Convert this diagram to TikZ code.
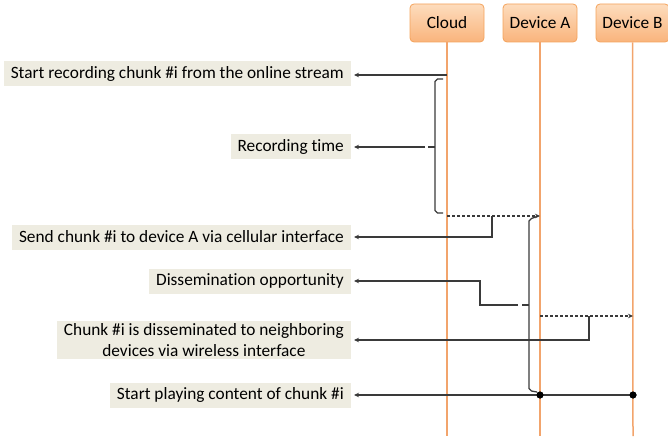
\documentclass[tikz,border=0pt]{standalone}
\usepackage{fontspec}
\setmainfont{Carlito}[Ligatures={NoCommon}]
\usetikzlibrary{arrows.meta,calc}
\definecolor{lifec}{HTML}{F2A46C}
\definecolor{boxtop}{HTML}{FDDCBD}
\definecolor{boxbot}{HTML}{F9B47C}
\definecolor{boxdraw}{HTML}{F4A35C}
\definecolor{labfill}{HTML}{EEECE1}
\definecolor{linec}{HTML}{3A3A3A}
\begin{document}
\begin{tikzpicture}[x=1pt,y=-1pt,
 header/.style={draw=boxdraw, line width=0.8pt, rounded corners=4pt, top color=boxtop, bottom color=boxbot, minimum width=74pt, minimum height=38pt, inner sep=2pt, font=\fontsize{17.3}{20}\selectfont},
 lifeline/.style={draw=lifec, line width=1.5pt},
 labelbox/.style={fill=labfill, anchor=east, inner xsep=7pt, inner ysep=2pt, minimum height=25pt, font=\fontsize{17.3}{21}\selectfont, align=center},
 conn/.style={draw=linec, line width=1.3pt},
 msg/.style={conn, -{Stealth[length=5pt,width=4.5pt]}},
 dmsg/.style={msg, dash pattern=on 3pt off 2pt},
 evdot/.style={circle, fill=black, inner sep=0pt, minimum size=7pt}]
\useasboundingbox (0,0) rectangle (668,438);
% headers
\node[header] (cloud) at (447,23) {Cloud};
\node[header] (devA) at (540,23) {Device A};
\node[header, minimum width=73pt] (devB) at (632.5,23) {Device B};
\coordinate (cloudE) at (447,436);
\coordinate (devAE) at (540,436);
\coordinate (devBE) at (633,436);
\draw[lifeline] (cloud.south) -- (cloudE);
\draw[lifeline] (devA.south) -- (devAE);
\draw[lifeline] (devB.south) -- (devBE);
% labels
\node[labelbox] (l1) at (351,74) {Start recording chunk \#i from the online stream};
\node[labelbox] (l2) at (351,147) {Recording time};
\node[labelbox] (l3) at (351,237) {Send chunk \#i to device A via cellular interface};
\node[labelbox] (l4) at (351,281) {Dissemination opportunity};
\node[labelbox] (l5) at (351,340) {Chunk \#i is disseminated to neighboring\\devices via wireless interface};
\node[labelbox] (l6) at (351,395) {Start playing content of chunk \#i};
% coordinates
\coordinate (c1) at (447,75);
\coordinate (b2) at (425,147);
\coordinate (cs) at (447,216);
\coordinate (as) at (540,216);
\coordinate (k3) at (492,216);
\coordinate (k4) at (518,305);
\coordinate (ad) at (540,316);
\coordinate (bd) at (633,316);
\coordinate (k5) at (589,316);
\node[evdot] (pA) at (540,395) {};
\node[evdot] (pB) at (633,395) {};
% messages
\draw[msg] (c1) -- ([xshift=3pt,yshift=-1pt]l1.east);
% recording brace
\draw[conn] (443,79) -- (437.5,79) -- (435,81.5) -- (435,210.5) -- (437.5,213) -- (443,213);
\draw[conn] (435,147) -- (428,147);
\draw[msg] (b2) -- ([xshift=3pt]l2.east);
% send
\draw[dmsg] (cs) -- (as);
\draw[msg] (k3) |- ([xshift=3pt]l3.east);
% device A brace
\draw[conn] (538,216) -- (531.5,218.5) -- (529,221) -- (529,388.5) -- (531.5,391) -- (537,392);
\draw[conn] (522,305) -- (529,305);
\draw[msg] (k4) -- (480,305) |- ([xshift=3pt]l4.east);
% dissemination
\draw[dmsg] (ad) -- (bd);
\draw[msg] (k5) |- ([xshift=3pt]l5.east);
% play
\draw[msg] (pB.center) -- ([xshift=3pt]l6.east);
\node[evdot] at (pA) {};
\node[evdot] at (pB) {};
\end{tikzpicture}
\end{document}
